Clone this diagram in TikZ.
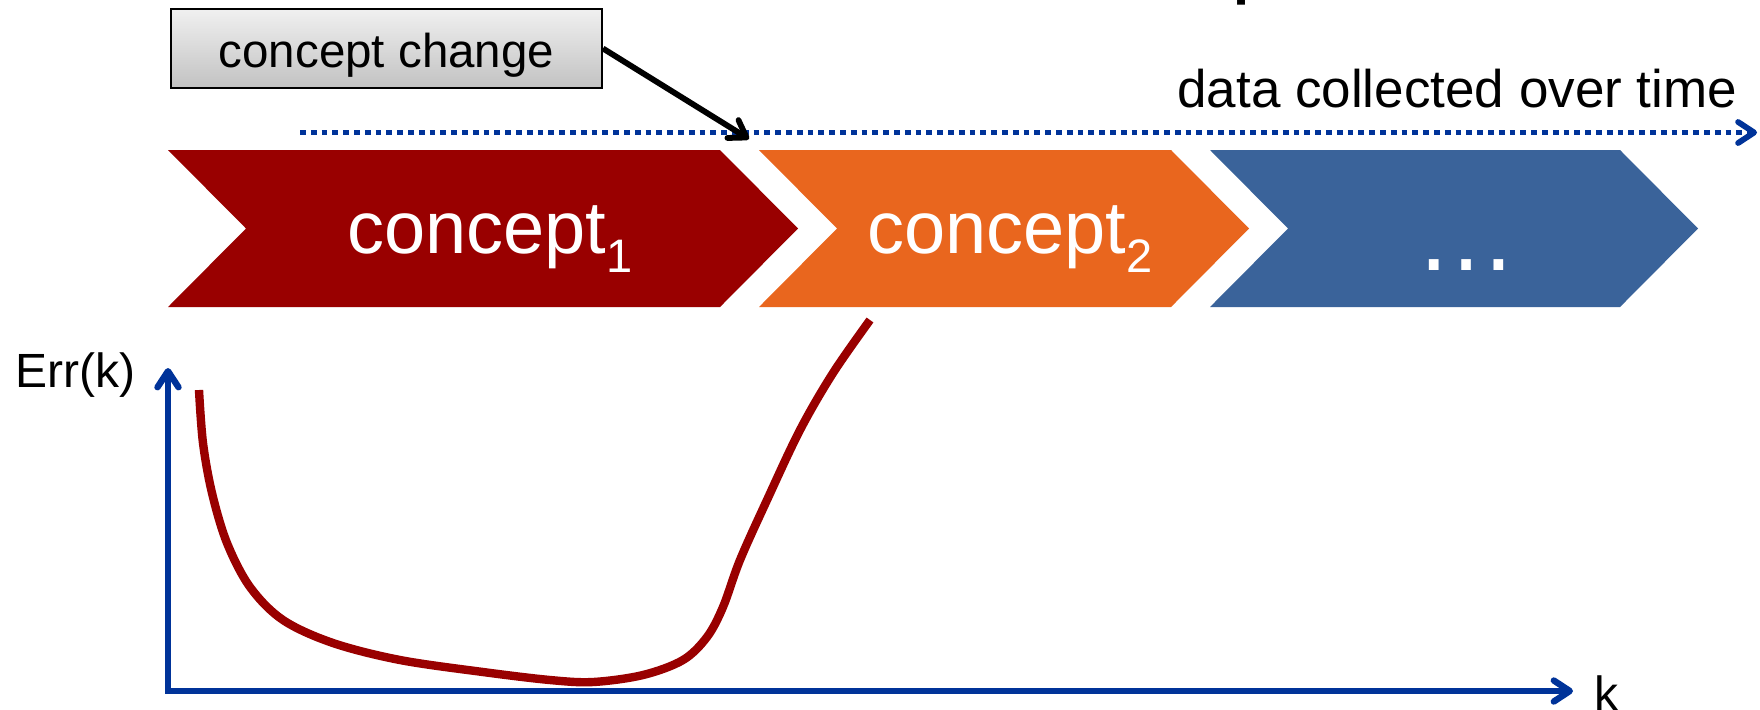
\documentclass[tikz,border=0pt]{standalone}
\usepackage{fontspec}
\setmainfont{Liberation Sans}
\usetikzlibrary{arrows.meta}

\definecolor{chevred}{HTML}{990000}
\definecolor{chevorange}{HTML}{E9661E}
\definecolor{chevblue}{HTML}{3A639A}
\definecolor{axisblue}{HTML}{003399}
\definecolor{curvered}{HTML}{990000}
\definecolor{boxtop}{HTML}{F0F0F0}
\definecolor{boxbottom}{HTML}{C2C2C2}

\tikzset{
  barb/.tip={Straight Barb[length=8pt,width=10.5pt,round]},
  callout/.style={draw=black, line width=1pt, top color=boxtop, bottom color=boxbottom,
    minimum width=215.5pt, minimum height=39.5pt, inner sep=0pt,
    text height=20pt, text depth=1.5pt, font=\fontsize{23.75pt}{28pt}\selectfont},
  callarrow/.style={draw=black, line width=2.9pt, -barb},
  timeline/.style={draw=axisblue, line width=2.9pt, dash pattern=on 2.85pt off 2.55pt, -barb},
  plainlabel/.style={inner sep=0pt, anchor=base west, text=black},
  chevtext/.style={inner sep=0pt, text=white, font=\fontsize{37pt}{40pt}\selectfont},
  axisline/.style={draw=axisblue, line width=3.2pt, line join=miter, barb-barb},
  errcurve/.style={draw=curvered, line width=4.2pt, line cap=butt},
}

\begin{document}
\begin{tikzpicture}[x=0.5pt, y=-0.5pt]
\useasboundingbox (0,0) rectangle (1760,709);

% descender of the heading above, cut by the page edge
\node[plainlabel, font=\fontsize{45pt}{50pt}\selectfont] (heading) at (1231,-14) {p};

% the three phases as chevrons
\fill[chevred]    (168,150) -- (720,150) -- (798,228.5) -- (720,307) -- (168,307) -- (246,228.5) -- cycle;
\fill[chevorange] (759,150) -- (1171,150) -- (1249,228.5) -- (1171,307) -- (759,307) -- (837,228.5) -- cycle;
\fill[chevblue]   (1210,150) -- (1620,150) -- (1698,228.5) -- (1620,307) -- (1210,307) -- (1288,228.5) -- cycle;

\node[chevtext, anchor=base west] (c1) at (347,253)
  {concept\raisebox{-9.5pt}{\fontsize{23.5pt}{24pt}\selectfont 1}};
\node[chevtext, anchor=base west] (c2) at (867,253)
  {concept\raisebox{-9.5pt}{\fontsize{23.5pt}{24pt}\selectfont 2}};
\node[chevtext, anchor=base, font=\fontsize{51pt}{54pt}\selectfont] (c3) at (1466,270) {…};

% time line
\coordinate (tstart) at (300,132.5);
\coordinate (tend) at (1757,132.5);
\draw[timeline] (tstart) -- (tend);
\node[plainlabel, font=\fontsize{26.5pt}{30pt}\selectfont] (tlabel) at (1177,107) {data collected over time};

% callout marking the change of concept
\node[callout] (cc) at (386.5,48.5) {concept change};
\coordinate (chgpt) at (749,139);
\draw[callarrow] (cc.east) -- (chgpt);

% error plot
\coordinate (origin) at (168,691);
\coordinate (ytop) at (168,368);
\coordinate (xend) at (1573,691);
\draw[axisline] (ytop) -- (origin) -- (xend);
\node[plainlabel, font=\fontsize{24pt}{28pt}\selectfont] (ylab) at (15,387) {Err(k)};
\node[plainlabel, font=\fontsize{24pt}{28pt}\selectfont] (xlab) at (1594,710) {k};

\draw[errcurve] plot[smooth, tension=0.55] coordinates {
  (199,390) (203,443) (212,493) (227,543) (250,587) (283,620) (333,643)
  (400,660) (483,672) (550,680) (593,682) (643,675) (683,660) (707,637)
  (723,607) (740,560) (767,500) (800,430) (833,373) (870,320)};
\end{tikzpicture}
\end{document}
